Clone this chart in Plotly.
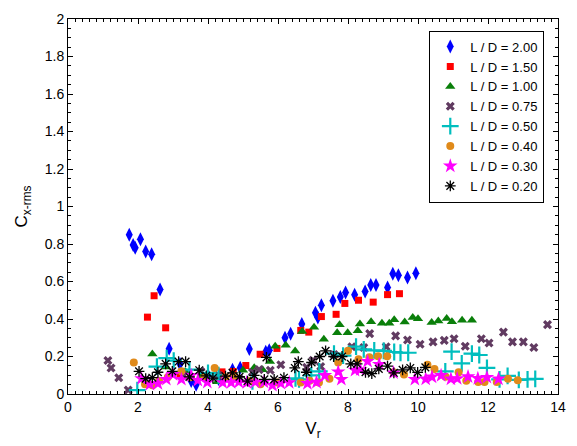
import plotly.graph_objects as go

# L/D = 2.00
x_200 = [1.75, 1.86, 1.92, 2.07, 2.22, 2.39, 2.63, 2.89, 3.2, 3.52, 3.66, 4.0, 4.3, 4.7, 4.92, 5.18,
         5.65, 5.75, 6.2, 6.36, 6.68, 7.07, 7.14, 7.24, 7.57, 7.78, 7.93, 8.19, 8.49, 8.65, 8.8,
         9.13, 9.28, 9.44, 9.7, 9.94]
y_200 = [0.85, 0.795, 0.78, 0.826, 0.76, 0.745, 0.557, 0.241, 0.16, 0.07, 0.05, 0.1, 0.08, 0.13, 0.14, 0.24,
         0.226, 0.234, 0.30, 0.322, 0.373, 0.434, 0.408, 0.474, 0.498, 0.517, 0.542, 0.53, 0.547, 0.582, 0.582,
         0.568, 0.642, 0.634, 0.621, 0.644]
# L/D = 1.50
x_150 = [2.27, 2.46, 2.79, 3.2, 4.4, 4.72, 5.08, 5.49, 5.97, 6.65, 6.88, 7.24, 7.66, 7.91, 8.3, 8.72,
         9.13, 9.47]
y_150 = [0.41, 0.524, 0.353, 0.1, 0.118, 0.12, 0.152, 0.212, 0.243, 0.339, 0.33, 0.413, 0.425, 0.483,
         0.50, 0.49, 0.53, 0.535]
# L/D = 1.00
x_100 = [2.41, 2.8, 3.35, 3.8, 4.27, 5.0, 5.32, 5.56, 5.77, 5.92, 6.22, 6.49, 6.69, 7.03, 7.31, 7.69,
         7.76, 7.99, 8.28, 8.34, 8.66, 8.97, 9.18, 9.32, 9.62, 9.85, 10.0, 10.39, 10.58, 10.82,
         10.97, 11.26, 11.54]
y_100 = [0.214, 0.144, 0.12, 0.09, 0.065, 0.127, 0.14, 0.13, 0.174, 0.255, 0.26, 0.229, 0.334, 0.356,
         0.292, 0.327, 0.37, 0.327, 0.338, 0.373, 0.385, 0.378, 0.378, 0.396, 0.384, 0.408, 0.402,
         0.382, 0.39, 0.403, 0.385, 0.394, 0.394]
# L/D = 0.75
x_075 = [1.14, 1.23, 1.45, 1.72, 3.3, 3.8, 4.3, 4.9, 5.27, 5.46, 5.78, 6.08, 6.82, 7.0, 7.22, 7.6,
         8.11, 8.45, 8.62, 9.09, 9.36, 9.7, 10.06, 10.43, 10.75, 11.03, 11.35, 11.81, 12.03, 12.44,
         12.7, 13.01, 13.31, 13.7]
y_075 = [0.179, 0.139, 0.087, 0.021, 0.10, 0.12, 0.10, 0.08, 0.116, 0.13, 0.127, 0.156, 0.142, 0.18,
         0.147, 0.21, 0.252, 0.248, 0.322, 0.252, 0.31, 0.288, 0.265, 0.278, 0.286, 0.295, 0.255,
         0.295, 0.272, 0.33, 0.278, 0.278, 0.248, 0.37]
# L/D = 0.50
x_050 = [1.98, 2.54, 2.82, 3.02, 3.47, 4.0, 4.3, 5.27, 6.5, 6.6, 6.95, 7.18, 7.6, 7.86, 8.23, 8.45,
         8.75, 9.02, 9.32, 9.5, 9.72, 10.78, 10.96, 11.25, 11.54, 11.75, 11.97, 12.33, 12.56, 12.88,
         13.13, 13.35]
y_050 = [0.021, 0.146, 0.191, 0.178, 0.13, 0.113, 0.10, 0.068, 0.083, 0.078, 0.099, 0.121, 0.215,
         0.205, 0.253, 0.238, 0.233, 0.23, 0.224, 0.22, 0.22, 0.121, 0.226, 0.163, 0.215, 0.208,
         0.139, 0.078, 0.097, 0.075, 0.078, 0.081]
# L/D = 0.40
x_040 = [1.88, 2.2, 2.41, 2.6, 2.85, 3.24, 3.5, 3.9, 4.19, 4.5, 4.75, 5.2, 5.5, 5.98, 6.65, 6.9,
         7.17, 7.47, 7.72, 8.0, 8.3, 8.61, 8.86, 9.12, 9.3, 9.6, 10.27, 10.47, 10.79, 11.16, 11.38,
         11.72, 11.9, 12.25, 12.57, 12.85]
y_040 = [0.168, 0.052, 0.047, 0.07, 0.09, 0.121, 0.09, 0.087, 0.139, 0.09, 0.095, 0.07, 0.052, 0.061,
         0.061, 0.071, 0.061, 0.082, 0.168, 0.231, 0.186, 0.196, 0.201, 0.202, 0.116, 0.104, 0.156,
         0.134, 0.092, 0.116, 0.071, 0.064, 0.064, 0.064, 0.082, 0.073]
# L/D = 0.30
x_030 = [2.1, 2.34, 2.57, 2.81, 3.0, 3.24, 3.52, 3.71, 3.98, 4.42, 4.66, 4.88, 5.11, 5.35, 5.6,
         5.84, 6.08, 6.32, 6.84, 7.1, 7.34, 7.72, 7.81, 8.2, 8.35, 8.56, 8.89, 9.3, 9.91, 10.22,
         10.4, 10.66, 10.94, 11.12, 11.43, 11.71, 11.97, 12.3]
y_030 = [0.082, 0.052, 0.056, 0.078, 0.104, 0.078, 0.099, 0.073, 0.062, 0.061, 0.061, 0.064, 0.061,
         0.064, 0.064, 0.047, 0.057, 0.061, 0.056, 0.063, 0.099, 0.118, 0.078, 0.127, 0.13, 0.174,
         0.158, 0.113, 0.078, 0.08, 0.091, 0.099, 0.08, 0.082, 0.092, 0.083, 0.089, 0.08]
# L/D = 0.20
x_020 = [2.03, 2.22, 2.41, 2.57, 2.79, 2.98, 3.16, 3.36, 3.47, 3.75, 3.95, 4.14, 4.5, 4.7, 4.9,
         5.13, 5.32, 5.61, 5.67, 5.89, 6.17, 6.48, 6.58, 6.81, 6.96, 7.19, 7.36, 7.59, 7.83, 8.08,
         8.26, 8.5, 8.68, 8.88, 9.13, 9.31, 9.56, 9.78, 9.99, 10.21]
y_020 = [0.121, 0.082, 0.087, 0.116, 0.161, 0.121, 0.173, 0.173, 0.091, 0.127, 0.097, 0.085, 0.095,
         0.113, 0.092, 0.069, 0.099, 0.078, 0.195, 0.078, 0.087, 0.139, 0.173, 0.116, 0.168, 0.2,
         0.23, 0.2, 0.2, 0.161, 0.161, 0.116, 0.109, 0.134, 0.149, 0.113, 0.129, 0.139, 0.115, 0.142]

series = [
    ("L / D = 2.00", x_200, y_200, "diamond-tall", "#0000FF", 10, 0),
    ("L / D = 1.50", x_150, y_150, "square", "#FF0000", 7, 0),
    ("L / D = 1.00", x_100, y_100, "triangle-up", "#0A7F0A", 9, 0),
    ("L / D = 0.75", x_075, y_075, "x", "#613B61", 8, 0),
    ("L / D = 0.50", x_050, y_050, "cross-thin", "#00BEBE", 12, 2.2),
    ("L / D = 0.40", x_040, y_040, "circle", "#E08A1A", 8, 0),
    ("L / D = 0.30", x_030, y_030, "star", "#FF00FF", 11, 0),
    ("L / D = 0.20", x_020, y_020, "asterisk-open", "#000000", 9, 1.3),
]

fig = go.Figure()
for name, xs, ys, sym, col, size, lw in series:
    marker = dict(symbol=sym, color=col, size=size)
    if lw:
        marker["line"] = dict(color=col, width=lw)
    else:
        marker["line"] = dict(width=0)
    fig.add_trace(go.Scatter(x=xs, y=ys, mode="markers", name=name, marker=marker))

fam = "Liberation Sans, Arial, sans-serif"
tickfont = dict(family=fam, size=14, color="black")
legfont = dict(family=fam, size=13, color="black")
axis_common = dict(
    showgrid=False, zeroline=False, showline=True, linecolor="black", linewidth=1,
    mirror="ticks", ticks="inside", ticklen=5, tickcolor="black", tickwidth=1,
    tickfont=tickfont,
)
fig.update_xaxes(range=[0, 14], dtick=2, tick0=0,
                 minor=dict(ticks="inside", dtick=0.2, ticklen=3, tickcolor="black"),
                 title=dict(text="V<sub>r</sub>", font=dict(family=fam, size=17, color="black"), standoff=8),
                 **axis_common)
fig.update_yaxes(range=[0, 2], dtick=0.2, tick0=0,
                 minor=dict(ticks="inside", dtick=0.05, ticklen=3, tickcolor="black"),
                 title=dict(text="C<sub>x-rms</sub>", font=dict(family=fam, size=17, color="black"), standoff=12),
                 **axis_common)
fig.update_layout(
    width=577, height=446,
    margin=dict(l=68, r=14, t=11, b=51),
    plot_bgcolor="white", paper_bgcolor="white",
    font=tickfont,
    legend=dict(x=0.972, y=0.969, xanchor="right", yanchor="top",
                bordercolor="black", borderwidth=1, bgcolor="white",
                font=legfont, tracegroupgap=0, itemwidth=30),
)
fig.write_html("out.html")
